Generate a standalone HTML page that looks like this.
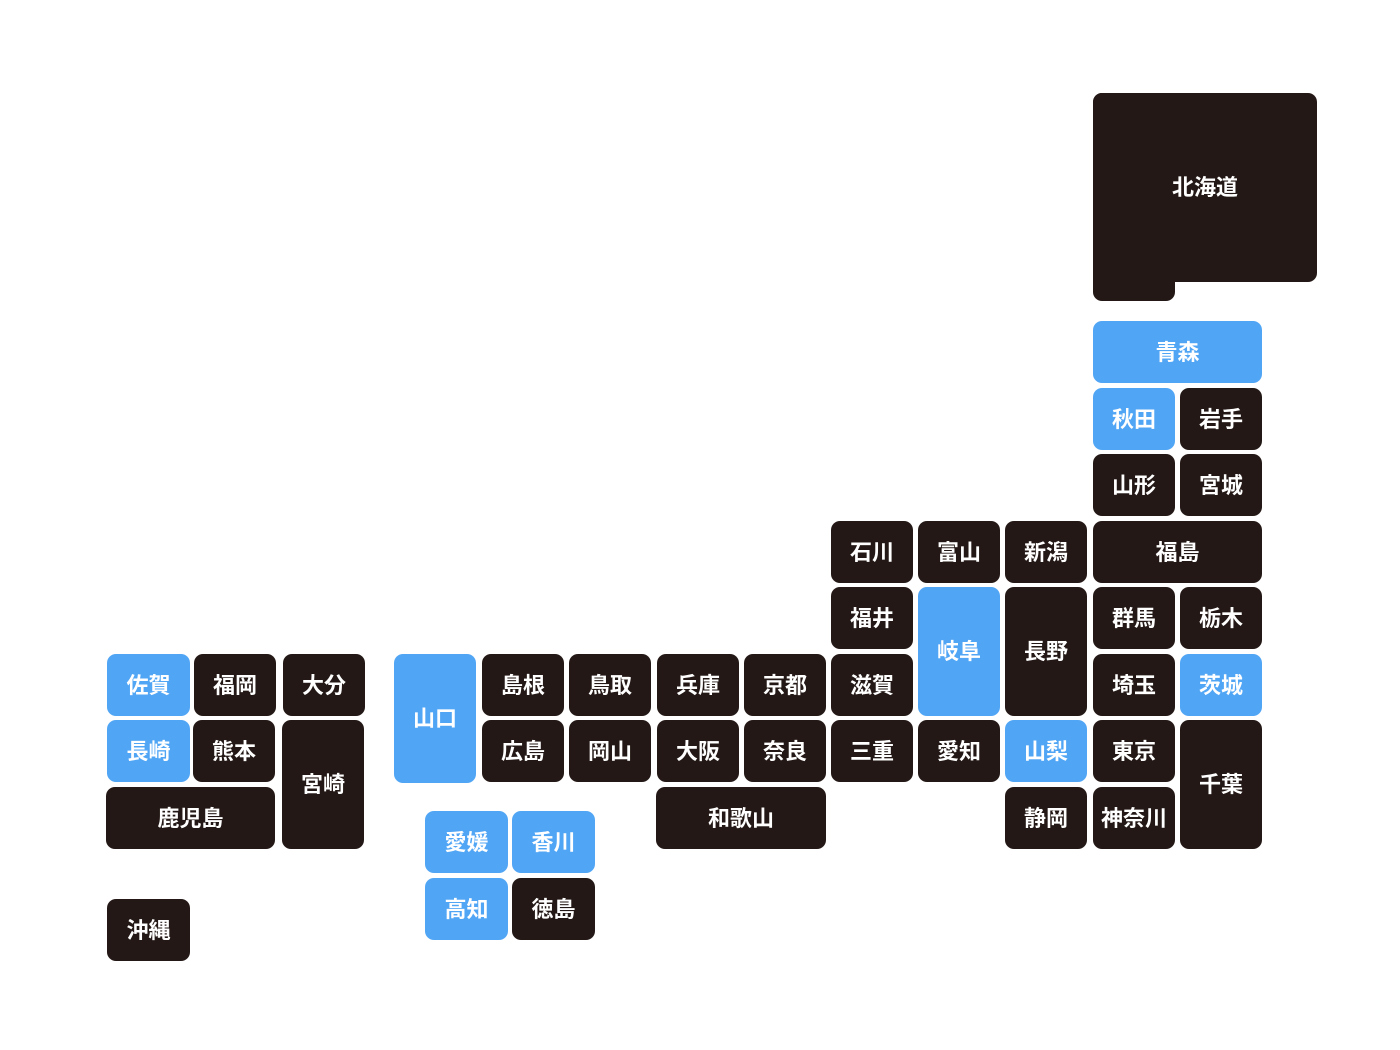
<!DOCTYPE html>
<html><head><meta charset="utf-8"><style>
body{margin:0;width:1400px;height:1050px;background:#fff;position:relative;overflow:hidden;font-family:"Liberation Sans","Noto Sans CJK JP",sans-serif;}
.p{position:absolute;box-sizing:border-box;padding-bottom:3px;background:#231815;color:#fff;border-radius:9px;display:flex;align-items:center;justify-content:center;font-weight:bold;font-size:22px;}
.b{background:#50a5f5;}
</style></head><body>
<div class="p" style="left:1093px;top:93px;width:82px;height:208px"></div>
<div class="p" style="left:1093px;top:93px;width:224px;height:189px">北海道</div>

<div class="p b" style="left:1093px;top:321px;width:169px;height:62px">青森</div>
<div class="p b" style="left:1093px;top:388px;width:82px;height:62px">秋田</div>
<div class="p" style="left:1180px;top:388px;width:82px;height:62px">岩手</div>
<div class="p" style="left:1093px;top:454px;width:82px;height:62px">山形</div>
<div class="p" style="left:1180px;top:454px;width:82px;height:62px">宮城</div>
<div class="p" style="left:1093px;top:521px;width:169px;height:62px">福島</div>
<div class="p" style="left:1093px;top:587px;width:82px;height:62px">群馬</div>
<div class="p" style="left:1180px;top:587px;width:82px;height:62px">栃木</div>
<div class="p" style="left:1093px;top:654px;width:82px;height:62px">埼玉</div>
<div class="p b" style="left:1180px;top:654px;width:82px;height:62px">茨城</div>
<div class="p" style="left:1093px;top:720px;width:82px;height:62px">東京</div>
<div class="p" style="left:1180px;top:720px;width:82px;height:129px">千葉</div>
<div class="p" style="left:1093px;top:787px;width:82px;height:62px">神奈川</div>

<div class="p" style="left:831px;top:521px;width:82px;height:62px">石川</div>
<div class="p" style="left:918px;top:521px;width:82px;height:62px">富山</div>
<div class="p" style="left:1005px;top:521px;width:82px;height:62px">新潟</div>
<div class="p" style="left:831px;top:587px;width:82px;height:62px">福井</div>
<div class="p b" style="left:918px;top:587px;width:82px;height:129px">岐阜</div>
<div class="p" style="left:1005px;top:587px;width:82px;height:129px">長野</div>
<div class="p" style="left:831px;top:654px;width:82px;height:62px">滋賀</div>
<div class="p" style="left:831px;top:720px;width:82px;height:62px">三重</div>
<div class="p" style="left:918px;top:720px;width:82px;height:62px">愛知</div>
<div class="p b" style="left:1005px;top:720px;width:82px;height:62px">山梨</div>
<div class="p" style="left:1005px;top:787px;width:82px;height:62px">静岡</div>

<div class="p b" style="left:394px;top:654px;width:82px;height:129px">山口</div>
<div class="p" style="left:482px;top:654px;width:82px;height:62px">島根</div>
<div class="p" style="left:569px;top:654px;width:82px;height:62px">鳥取</div>
<div class="p" style="left:657px;top:654px;width:82px;height:62px">兵庫</div>
<div class="p" style="left:744px;top:654px;width:82px;height:62px">京都</div>
<div class="p" style="left:482px;top:720px;width:82px;height:62px">広島</div>
<div class="p" style="left:569px;top:720px;width:82px;height:62px">岡山</div>
<div class="p" style="left:657px;top:720px;width:82px;height:62px">大阪</div>
<div class="p" style="left:744px;top:720px;width:82px;height:62px">奈良</div>
<div class="p" style="left:656px;top:787px;width:170px;height:62px">和歌山</div>

<div class="p b" style="left:425px;top:811px;width:83px;height:62px">愛媛</div>
<div class="p b" style="left:512px;top:811px;width:83px;height:62px">香川</div>
<div class="p b" style="left:425px;top:878px;width:83px;height:62px">高知</div>
<div class="p" style="left:512px;top:878px;width:83px;height:62px">徳島</div>

<div class="p b" style="left:107px;top:654px;width:83px;height:62px">佐賀</div>
<div class="p" style="left:194px;top:654px;width:82px;height:62px">福岡</div>
<div class="p" style="left:283px;top:654px;width:82px;height:62px">大分</div>
<div class="p b" style="left:107px;top:720px;width:83px;height:62px">長崎</div>
<div class="p" style="left:193px;top:720px;width:82px;height:62px">熊本</div>
<div class="p" style="left:282px;top:720px;width:82px;height:129px">宮崎</div>
<div class="p" style="left:106px;top:787px;width:169px;height:62px">鹿児島</div>
<div class="p" style="left:107px;top:899px;width:83px;height:62px">沖縄</div>
</body></html>
